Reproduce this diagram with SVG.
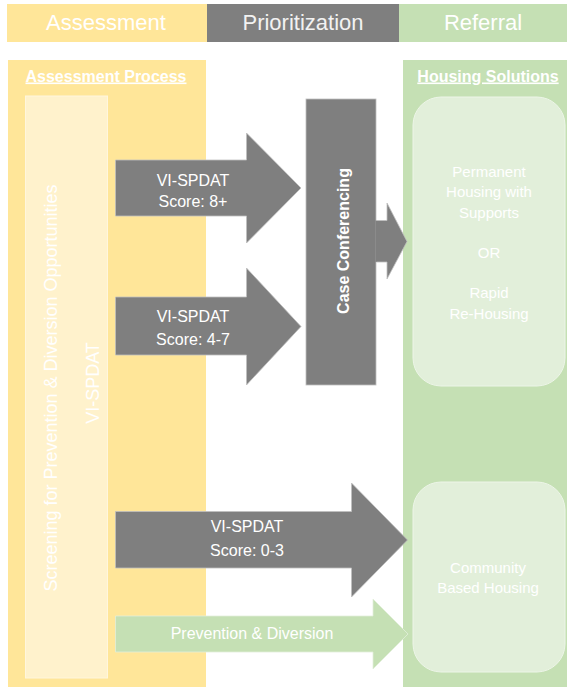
<svg xmlns="http://www.w3.org/2000/svg" width="569" height="687" viewBox="0 0 569 687">
<style>
text{font-family:"Liberation Sans",Arial,sans-serif;fill:#fff;text-anchor:middle}
.hdr{font-size:22px}
.sub{font-size:16px;font-weight:bold;text-decoration:underline}
.lbl{font-size:16px}
.hs{font-size:15px}
.gr{fill:#7f7f7f;stroke:#bfbfbf;stroke-width:0.8}
.gn{fill:#c5e0b4;stroke:#e2efda;stroke-width:0.8}
.box{fill:#e2efda;stroke:#edf5e8;stroke-width:1}
</style>
<rect width="569" height="687" fill="#fff"/>
<g id="header">
<rect x="7" y="4" width="200" height="38" fill="#ffe699"/>
<rect x="207" y="4" width="192" height="38" fill="#7f7f7f"/>
<rect x="399" y="4" width="168" height="38" fill="#c5e0b4"/>
<text class="hdr" x="106" y="30">Assessment</text>
<text class="hdr" x="303" y="30" style="fill:#f2f2f2">Prioritization</text>
<text class="hdr" x="483" y="30">Referral</text>
</g>
<g id="assessment-panel">
<rect x="8" y="60" width="198" height="627" fill="#ffe699"/>
<text class="sub" x="106" y="81.5">Assessment Process</text>
</g>
<g id="screening">
<rect x="25.5" y="96" width="82" height="582" fill="#fff2cc" stroke="#fff6dd" stroke-width="1"/>
<text style="font-size:18px" transform="translate(56.5,388) rotate(-90)">Screening for Prevention &amp; Diversion Opportunities</text>
<text style="font-size:18px" transform="translate(98.5,383) rotate(-90)">VI-SPDAT</text>
</g>
<g id="housing-panel">
<rect x="403" y="60" width="164" height="627" fill="#c5e0b4"/>
<text class="sub" x="488" y="81.5">Housing Solutions</text>
</g>
<g id="permanent-housing">
<rect x="413" y="97" width="152" height="289" rx="28" class="box"/>
<text class="hs" x="489" y="177">Permanent</text>
<text class="hs" x="489" y="197">Housing with</text>
<text class="hs" x="489" y="218">Supports</text>
<text class="hs" x="489" y="258">OR</text>
<text class="hs" x="489" y="298">Rapid</text>
<text class="hs" x="489" y="319">Re-Housing</text>
</g>
<g id="community-housing">
<rect x="413" y="482" width="152" height="190" rx="28" class="box"/>
<text class="hs" x="488" y="573">Community</text>
<text class="hs" x="488" y="593">Based Housing</text>
</g>
<g id="case-conferencing">
<rect x="306" y="99" width="70" height="286" class="gr"/>
<text style="font-size:16px;font-weight:bold" transform="translate(348.5,241) rotate(-90)">Case Conferencing</text>
</g>
<g id="connectors">
<polygon class="gr" points="115.5,160 246.5,160 246.5,133 301,188 246.5,243 246.5,216 115.5,216"/>
<polygon class="gr" points="115.5,297 246.5,297 246.5,268 301,326.5 246.5,385 246.5,355 115.5,355"/>
<polygon fill="#7f7f7f" points="375.5,220.5 387,220.5 387,203 407,241.5 387,279 387,262 375.5,262"/>
<polyline fill="none" stroke="#bfbfbf" stroke-width="0.8" points="376.4,220.5 387,220.5 387,203 407,241.5 387,279 387,262 376.4,262"/>
<polygon class="gr" points="115.5,511.5 351.5,511.5 351.5,483 407.5,540 351.5,597 351.5,568 115.5,568"/>
<polygon class="gn" points="115.5,616 373,616 373,599 408,634 373,669 373,652 115.5,652"/>
<text class="lbl" x="193" y="185.5">VI-SPDAT</text>
<text class="lbl" x="193" y="207">Score: 8+</text>
<text class="lbl" x="193" y="322">VI-SPDAT</text>
<text class="lbl" x="193" y="345">Score: 4-7</text>
<text class="lbl" x="247" y="532">VI-SPDAT</text>
<text class="lbl" x="247" y="556">Score: 0-3</text>
<text class="lbl" x="252" y="639">Prevention &amp; Diversion</text>
</g>
</svg>
